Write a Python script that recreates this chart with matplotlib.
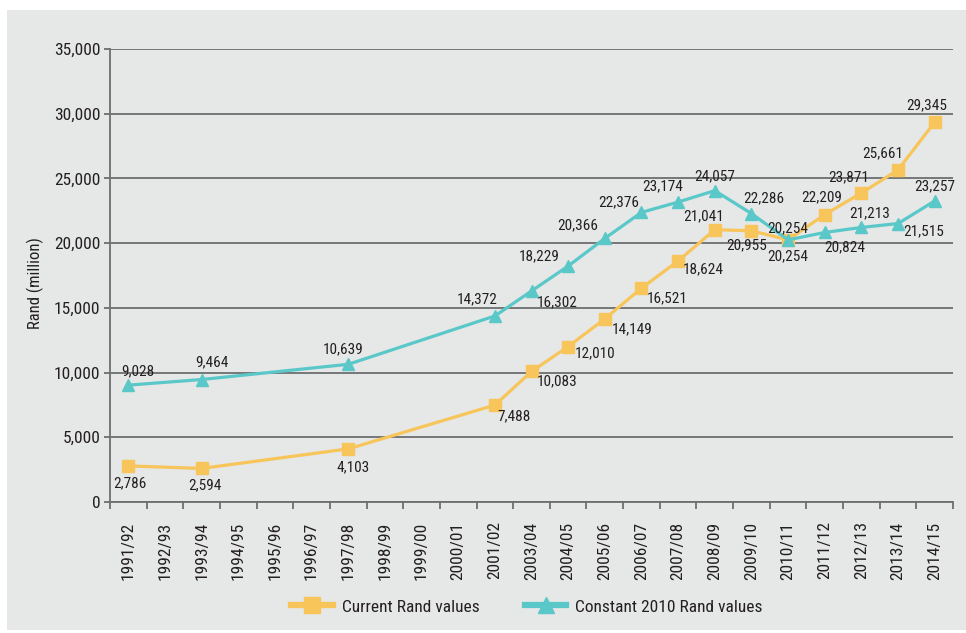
import numpy as np
import matplotlib
matplotlib.use("Agg")
import matplotlib.pyplot as plt
from matplotlib.patches import Rectangle
from matplotlib.lines import Line2D

plt.rcParams['font.family'] = ['Roboto Condensed', 'Liberation Sans Narrow', 'DejaVu Sans']
plt.rcParams['font.stretch'] = 'condensed'

# =========================================================
# data
# =========================================================
categories = ["1991/92", "1992/93", "1993/94", "1994/95", "1995/96", "1996/97",
              "1997/98", "1998/99", "1999/00", "2000/01", "2001/02", "2003/04",
              "2004/05", "2005/06", "2006/07", "2007/08", "2008/09", "2009/10",
              "2010/11", "2011/12", "2012/13", "2013/14", "2014/15"]

years = ["1991/92", "1993/94", "1997/98", "2001/02", "2003/04", "2004/05",
         "2005/06", "2006/07", "2007/08", "2008/09", "2009/10", "2010/11",
         "2011/12", "2012/13", "2013/14", "2014/15"]

current_rand = [2786, 2594, 4103, 7488, 10083, 12010, 14149, 16521, 18624,
                21041, 20955, 20254, 22209, 23871, 25661, 29345]
constant_rand = [9028, 9464, 10639, 14372, 16302, 18229, 20366, 22376, 23174,
                 24057, 22286, 20254, 20824, 21213, 21515, 23257]

# label offsets in pixels (dx, dy down)
current_off = [(2, 17), (3, 17), (5, 18), (19, 11), (26, 10), (27, 7), (27, 10),
               (26, 10), (25, 8), (-11, -13), (-5, 15), (0, -12), (-3, -17),
               (-13, -16), (-15, -17), (-8, -17)]
constant_off = [(10, -14), (10, -17), (-5, -15), (-18, -17), (26, 11), (-29, -10),
                (-27, -13), (-23, -10), (-15, -16), (0, -14), (12, -15), (0, 16),
                (20, 15), (8, -14), (26, 8), (0, -15)]

orange = "#f7c55a"
teal = "#5ac8c8"
grey_bg = "#e6e7e7"
grid_c = "#6d6e70"
txt = "#231f20"

# =========================================================
# figure
# =========================================================
W, H = 966, 633
fig = plt.figure(figsize=(W / 100, H / 100), dpi=100, facecolor="white")
fig.patches.append(Rectangle((7 / W, 3 / H), 1 - 7 / W, (630 - 10) / H,
                             transform=fig.transFigure, facecolor=grey_bg,
                             edgecolor="none", zorder=-10))

ax = fig.add_axes([110 / W, 1 - 502 / H, (953 - 110) / W, (502 - 49) / H])
ax.set_facecolor(grey_bg)

xpos = [categories.index(y) for y in years]

ax.plot(xpos, current_rand, color=orange, lw=2.3, marker="s", ms=9, zorder=3)
ax.plot(xpos, constant_rand, color=teal, lw=2.3, marker="^", ms=9, zorder=4)

for x, v, (dx, dy) in zip(xpos, current_rand, current_off):
    ax.annotate(f"{v:,}", (x, v), xytext=(dx, -dy), textcoords="offset pixels",
                ha="center", va="center", fontsize=11, color=txt, zorder=5)
for x, v, (dx, dy) in zip(xpos, constant_rand, constant_off):
    ax.annotate(f"{v:,}", (x, v), xytext=(dx, -dy), textcoords="offset pixels",
                ha="center", va="center", fontsize=11, color=txt, zorder=5)

# axes styling
ax.set_xlim(-0.5, len(categories) - 0.5)
ax.set_ylim(0, 35000)
ax.set_yticks(np.arange(0, 35001, 5000))
ax.set_yticklabels([f"{v:,}" for v in range(0, 35001, 5000)])
ax.yaxis.grid(True, color=grid_c, lw=1.3)
ax.set_axisbelow(True)

ax.set_xticks(np.arange(len(categories)))
ax.set_xticklabels(categories, rotation=90)
ax.set_xticks(np.arange(-0.5, len(categories)), minor=True)
ax.tick_params(axis="x", which="major", length=0, pad=14, labelsize=12.5, labelcolor=txt)
ax.tick_params(axis="x", which="minor", length=5, width=1.3, color=grid_c, direction="out")
ax.tick_params(axis="y", length=4, width=1.3, color=grid_c, labelsize=12.5,
               labelcolor=txt, pad=3)

for s in ["top", "right"]:
    ax.spines[s].set_visible(False)
for s in ["left", "bottom"]:
    ax.spines[s].set_color(grid_c)
    ax.spines[s].set_linewidth(1.3)

fig.text(35 / W, 1 - 283 / H, "Rand (million)", rotation=90, ha="center",
         va="center", fontsize=12, color=txt)

handles = [Line2D([], [], color=orange, lw=4.5, marker="s", ms=12),
           Line2D([], [], color=teal, lw=4.5, marker="^", ms=12)]
fig.legend(handles, ["Current Rand values", "Constant 2010 Rand values"],
           loc="center", bbox_to_anchor=(527 / W, 1 - 607 / H), ncol=2,
           frameon=False, fontsize=12.5, handlelength=2.4, columnspacing=2.6,
           handletextpad=0.5, labelcolor=txt)

fig.savefig("out.png", dpi=100, facecolor="white")
